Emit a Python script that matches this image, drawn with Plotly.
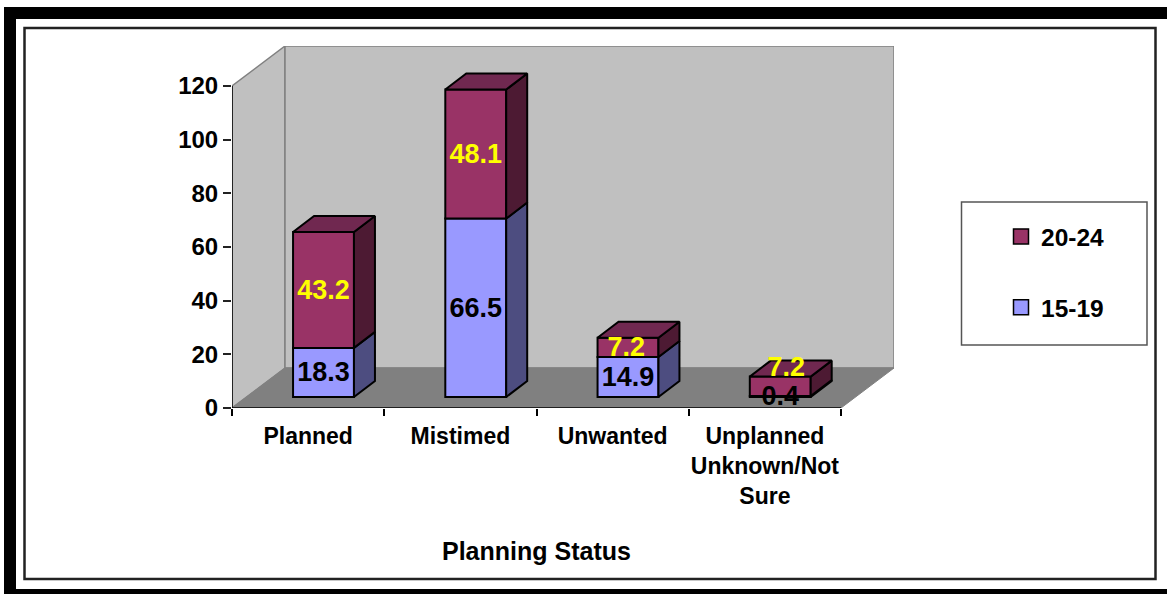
import plotly.graph_objects as go

categories = ["Planned", "Mistimed", "Unwanted", "Unplanned<br>Unknown/Not<br>Sure"]
values_15_19 = [18.3, 66.5, 14.9, 0.4]
values_20_24 = [43.2, 48.1, 7.2, 7.2]
y_ticks = [0, 20, 40, 60, 80, 100, 120]

# Pixel frame of the plot area
W, H = 1167, 594
PL, PR, PT, PB = 232, 894, 46, 408
UNIT_X = 152.25             # px per category
UNIT_Y = (PB - 86) / 120    # px per value unit
WALL_DX = (PR - PL - 4 * UNIT_X) / UNIT_X
WALL_DY = 40 / UNIT_Y
BAR_SHIFT = 0.101
BAR_W = 0.40
BAR_DX = 21 / UNIT_X
BAR_DY = 16 / UNIT_Y
BASE = 11 / UNIT_Y
LABEL_NUDGE = -2 / UNIT_Y

FONT = "Liberation Sans, Arial, sans-serif"
FRONT_LO, SIDE_LO = "#9999FF", "#4D4D80"
FRONT_HI, SIDE_HI, TOP_HI = "#993366", "#4D1A33", "#702850"
WALL, FLOOR = "#C0C0C0", "#808080"

x_pos = [i + BAR_SHIFT for i in range(len(categories))]
base_lo = [BASE] * len(categories)
base_hi = [b + v for b, v in zip(base_lo, values_15_19)]
top_lo = base_hi
top_hi = [b + v for b, v in zip(base_hi, values_20_24)]


def poly(pts):
    return "M" + " L".join(f"{x},{y}" for x, y in pts) + " Z"


def px_x(p):
    return (p - PL) / (PR - PL)


def px_y(p):
    return (PB - p) / (PB - PT)


def faces(kind, lo, hi):
    xs, ys = [], []
    for c, a, b in zip(x_pos, lo, hi):
        r = c + BAR_W / 2
        l = c - BAR_W / 2
        if kind == "side":
            pts = [(r, a), (r + BAR_DX, a + BAR_DY), (r + BAR_DX, b + BAR_DY), (r, b), (r, a)]
        else:
            pts = [(l, b), (l + BAR_DX, b + BAR_DY), (r + BAR_DX, b + BAR_DY), (r, b), (l, b)]
        xs += [p[0] for p in pts] + [None]
        ys += [p[1] for p in pts] + [None]
    return xs, ys


fig = go.Figure()

fig.add_bar(x=x_pos, y=values_15_19, base=base_lo, width=BAR_W, name="15-19",
            marker=dict(color=FRONT_LO, line=dict(color="black", width=2)),
            showlegend=False, legendgroup="15-19")
fig.add_bar(x=x_pos, y=values_20_24, base=base_hi, width=BAR_W, name="20-24",
            marker=dict(color=FRONT_HI, line=dict(color="black", width=2)),
            showlegend=False, legendgroup="20-24")

for kind, lo, hi, col in [("side", base_lo, top_lo, SIDE_LO),
                          ("side", base_hi, top_hi, SIDE_HI),
                          ("top", top_hi, top_hi, TOP_HI)]:
    xs, ys = faces(kind, lo, hi)
    fig.add_scatter(x=xs, y=ys, mode="lines", fill="toself", fillcolor=col,
                    line=dict(color="black", width=2), hoverinfo="skip", showlegend=False)

# Legend entries
fig.add_scatter(x=[None], y=[None], mode="markers", name="20-24", legendgroup="20-24",
                marker=dict(symbol="square", size=15, color=FRONT_HI, line=dict(color="black", width=1.5)))
fig.add_scatter(x=[None], y=[None], mode="markers", name="15-19", legendgroup="15-19",
                marker=dict(symbol="square", size=15, color=FRONT_LO, line=dict(color="black", width=1.5)))

# Data labels
label_lo_y = [b + v / 2 + LABEL_NUDGE for b, v in zip(base_lo, values_15_19)]
label_hi_y = [b + v / 2 + LABEL_NUDGE for b, v in zip(base_hi, values_20_24)]
label_hi_dy = [0, 0, 0, 7]
label_hi_dx = [0, 0, -0.012, 0.04]
fig.add_scatter(x=x_pos, y=label_lo_y, mode="text", text=[f"{v}" for v in values_15_19],
                textfont=dict(family=FONT, size=27, color="black", weight="bold"),
                hoverinfo="skip", showlegend=False, cliponaxis=False)
fig.add_scatter(x=[x + d for x, d in zip(x_pos, label_hi_dx)],
                y=[y + d for y, d in zip(label_hi_y, label_hi_dy)],
                mode="text", text=[f"{v}" for v in values_20_24],
                textfont=dict(family=FONT, size=27, color="#FFFF00", weight="bold"),
                hoverinfo="skip", showlegend=False, cliponaxis=False)

x0, x1 = -0.5, len(categories) - 0.5
ymax = 120
shapes = [
    # walls and floor
    dict(type="path", path=poly([(x0, 0), (x0 + WALL_DX, WALL_DY), (x0 + WALL_DX, ymax + WALL_DY), (x0, ymax)]),
         fillcolor=WALL, line=dict(color=FLOOR, width=1.5), layer="below"),
    dict(type="path", path=poly([(x0 + WALL_DX, WALL_DY), (x1 + WALL_DX, WALL_DY), (x1 + WALL_DX, ymax + WALL_DY), (x0 + WALL_DX, ymax + WALL_DY)]),
         fillcolor=WALL, line=dict(color=FLOOR, width=1.5), layer="below"),
    dict(type="path", path=poly([(x0, 0), (x1, 0), (x1 + WALL_DX, WALL_DY), (x0 + WALL_DX, WALL_DY)]),
         fillcolor=FLOOR, line=dict(color=FLOOR, width=1), layer="below"),
    # axis lines
    dict(type="line", x0=x0, x1=x1, y0=0, y1=0, line=dict(color="black", width=1.5), layer="above"),
    dict(type="line", x0=x0, x1=x0, y0=0, y1=ymax, line=dict(color="black", width=1.5), layer="above"),
]

# Page frame, given in page pixels
def rect(a, b, c, d, **kw):
    return dict(type="rect", xref="paper", yref="paper",
                x0=px_x(a), x1=px_x(c), y0=px_y(b), y1=px_y(d), **kw)

shapes += [
    rect(4, 7, W, 19, fillcolor="black", line=dict(width=0)),
    rect(4, 7, 16, H, fillcolor="black", line=dict(width=0)),
    rect(4, 589, W, H, fillcolor="black", line=dict(width=0)),
    rect(24.5, 28, 1155.5, 579, line=dict(color="#222222", width=2.5)),
    rect(961.5, 202, 1147, 345, line=dict(color="#555555", width=1.5)),
]

fig.update_layout(
    width=W, height=H, autosize=False,
    margin=dict(l=PL, r=W - PR, t=PT, b=H - PB, pad=0),
    paper_bgcolor="white", plot_bgcolor="white",
    barmode="overlay",
    shapes=shapes,
    font=dict(family=FONT, color="black"),
    legend=dict(x=px_x(1001), y=px_y(214), xanchor="left", yanchor="top",
                traceorder="grouped", tracegroupgap=36,
                bgcolor="rgba(0,0,0,0)", borderwidth=0,
                font=dict(family=FONT, size=24.5, color="black", weight="bold")),
    annotations=[dict(text="<b>Planning Status</b>", xref="paper", yref="paper",
                      x=px_x(536), y=px_y(551), xanchor="center", yanchor="middle",
                      showarrow=False, font=dict(family=FONT, size=25, color="black"))],
    xaxis=dict(range=[x0, x1 + WALL_DX], tickmode="array",
               tickvals=list(range(len(categories))), ticktext=categories,
               ticks="", showgrid=False, zeroline=False, showline=False,
               tickfont=dict(family=FONT, size=23, color="black", weight="bold"),
               tickangle=0, ticklabelstandoff=12,
               minor=dict(tickmode="array", tickvals=[i - 0.5 for i in range(len(categories) + 1)],
                          ticks="outside", ticklen=7, tickcolor="black", tickwidth=1.5, showgrid=False)),
    yaxis=dict(range=[0, ymax + WALL_DY], tickmode="array", tickvals=y_ticks,
               ticks="outside", ticklen=8, tickcolor="#222222", tickwidth=1.5,
               showgrid=False, zeroline=False, showline=False,
               tickfont=dict(family=FONT, size=24, color="black", weight="bold")),
)

fig.write_html("out.html", post_script="document.body.style.margin='0';document.body.style.overflow='hidden';",
               config={"displayModeBar": False})
